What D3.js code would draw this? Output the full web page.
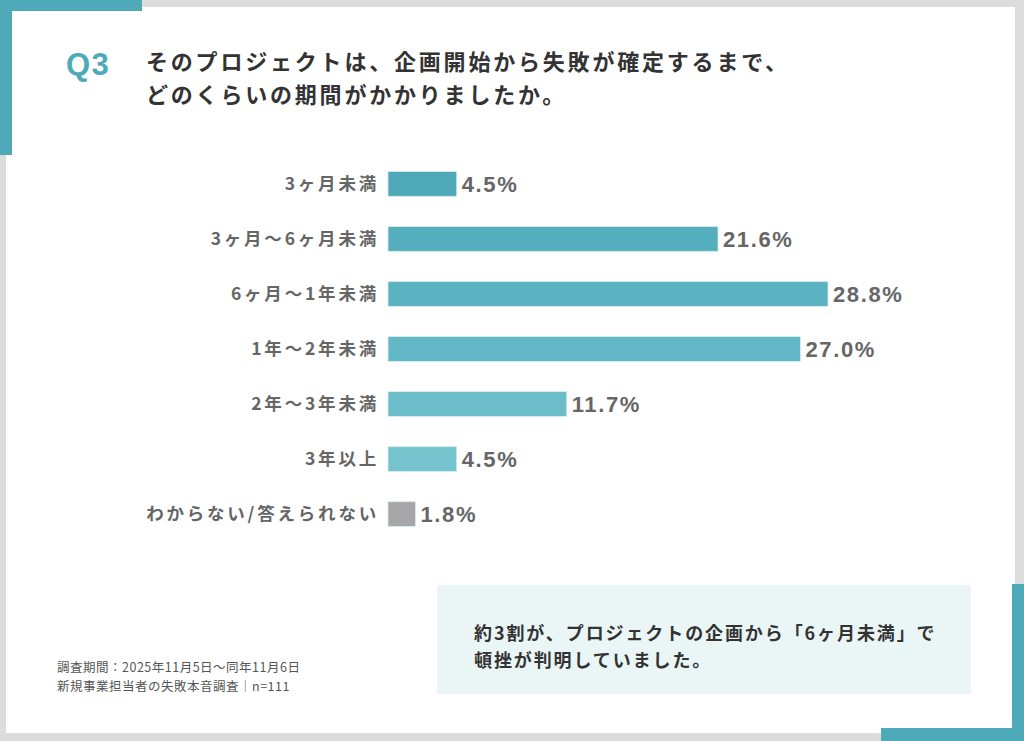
<!DOCTYPE html>
<html><head><meta charset="utf-8">
<script src="https://cdn.jsdelivr.net/npm/d3@7/dist/d3.min.js"></script>
<style>
html,body{margin:0;padding:0;background:#dcdcdc;}
svg{display:block;}
</style></head>
<body>
<script>
const categories = ["3ヶ月未満","3ヶ月〜6ヶ月未満","6ヶ月〜1年未満","1年〜2年未満","2年〜3年未満","3年以上","わからない/答えられない"];
const values = [4.5, 21.6, 28.8, 27.0, 11.7, 4.5, 1.8];
const barColors = ["#4fa9b9","#54aebd","#5bb3c2","#62b8c6","#6abdc9","#74c3cd","#a6a6a6"];
const titleLines = ["そのプロジェクトは、企画開始から失敗が確定するまで、","どのくらいの期間がかかりましたか。"];
const qLabel = "Q3";
const noteLines = ["調査期間：2025年11月5日〜同年11月6日","新規事業担当者の失敗本音調査｜n=111"];
const boxLines = ["約3割が、プロジェクトの企画から「6ヶ月未満」で","頓挫が判明していました。"];

const CJK = "'Noto Sans CJK JP','Noto Sans',sans-serif";
const LAT = "'Liberation Sans',Arial,sans-serif";
const W=1024,H=741;
const svg=d3.select("body").append("svg").attr("width",W).attr("height",H);
const teal="#4eaab9";
// background & card
svg.append("rect").attr("x",0).attr("y",0).attr("width",W).attr("height",H).attr("fill","#dcdcdc");
svg.append("rect").attr("x",6).attr("y",7).attr("width",1009).attr("height",726).attr("fill","#fff");
// corner accents
svg.append("rect").attr("x",0).attr("y",0).attr("width",142).attr("height",11).attr("fill",teal);
svg.append("rect").attr("x",0).attr("y",0).attr("width",12).attr("height",155).attr("fill",teal);
svg.append("rect").attr("x",881).attr("y",728).attr("width",143).attr("height",13).attr("fill",teal);
svg.append("rect").attr("x",1012).attr("y",584).attr("width",12).attr("height",157).attr("fill",teal);

// title
svg.append("text").attr("x",66).attr("y",75).text(qLabel)
  .attr("fill","#4eaab9").style("font-size","31px").style("font-weight",700).style("letter-spacing","1.5px")
  .style("font-family",LAT);
svg.selectAll("text.title").data(titleLines).join("text").attr("class","title")
  .attr("x",146).attr("y",(d,i)=>70+i*33).text(d=>d)
  .attr("fill","#333").style("font-family",CJK).style("font-size","22px").style("font-weight",700).style("letter-spacing","2.8px");

// chart
const x=d3.scaleLinear().domain([0,28.8]).range([388,828]);
const y=d3.scaleBand().domain(categories).range([155,543]).paddingInner(0.55).paddingOuter(0.3);
const g=svg.append("g");
g.selectAll("rect.bar").data(values).join("rect").attr("class","bar")
  .attr("x",x(0)).attr("y",(d,i)=>y(categories[i]))
  .attr("width",d=>x(d)-x(0)).attr("height",y.bandwidth())
  .attr("fill",(d,i)=>barColors[i]).attr("stroke","#d8eef1").attr("stroke-width",0.8);
g.selectAll("text.cat").data(categories).join("text").attr("class","cat")
  .attr("x",379).attr("y",d=>y(d)+y.bandwidth()/2).attr("dy","0.36em")
  .attr("text-anchor","end").text(d=>d)
  .attr("fill","#666").style("font-family",CJK).style("font-size","17.5px").style("font-weight",700).style("letter-spacing","2.8px");
g.selectAll("text.val").data(values).join("text").attr("class","val")
  .attr("x",d=>x(d)+5).attr("y",(d,i)=>y(categories[i])+y.bandwidth()/2).attr("dy","0.36em")
  .text(d=>d.toFixed(1)+"%")
  .attr("fill","#666").style("font-size","22px").style("font-weight",700).style("letter-spacing","1.6px")
  .style("font-family",LAT);

// notes
svg.selectAll("text.note").data(noteLines).join("text").attr("class","note")
  .attr("x",57).attr("y",(d,i)=>672+i*19).text(d=>d)
  .attr("fill","#555").style("font-family",CJK).style("font-size","12.5px").style("letter-spacing","0.5px");

// summary box
svg.append("rect").attr("x",437).attr("y",585).attr("width",534).attr("height",109).attr("fill","#eaf6f6");
svg.selectAll("text.box").data(boxLines).join("text").attr("class","box")
  .attr("x",474).attr("y",(d,i)=>640+i*27).text(d=>d)
  .attr("fill","#333").style("font-family",CJK).style("font-size","18px").style("font-weight",700).style("letter-spacing","1.9px");
</script>
</body></html>
